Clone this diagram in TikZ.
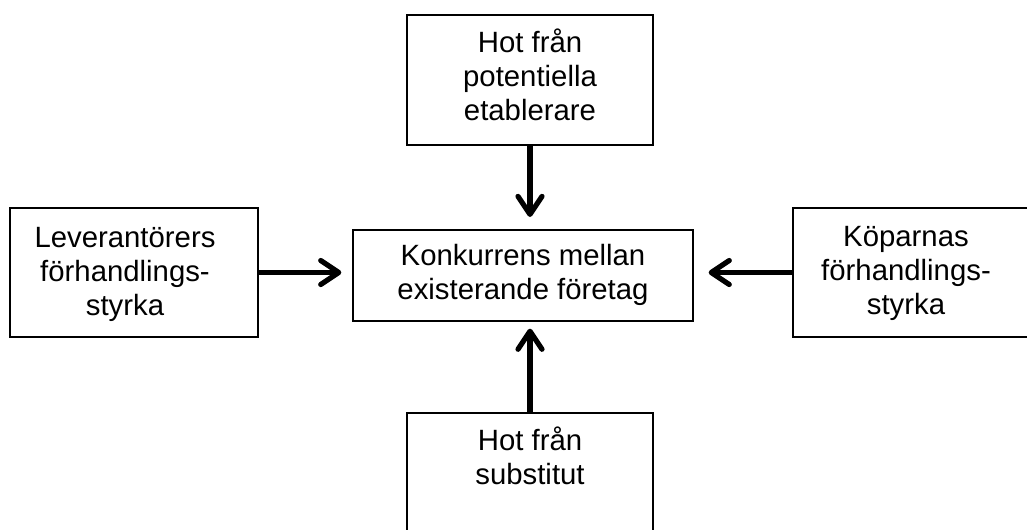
\documentclass[tikz,border=0pt]{standalone}
\usepackage{fontspec}
\setmainfont{Liberation Sans}
\usetikzlibrary{arrows.meta}

\begin{document}
\begin{tikzpicture}[x=0.75pt, y=-0.75pt,
		box/.style={draw, line width=1.5pt, inner sep=0pt},
		txt/.style={align=center, inner sep=0pt, font=\fontsize{22pt}{25.5pt}\selectfont},
		force/.style={line width=3.9pt, -{Straight Barb[length=13.5pt, width=18pt, round]}}]
		%%%%% START %%%%%
		\useasboundingbox (0, 0) rectangle (1027, 529);
		\clip (0, 0) rectangle (1027, 529);
		
		\node[box, minimum width=255pt, minimum height=68.25pt] (rivalry) at (523, 275.5) {};
		\node[txt] (rivalrytxt) at (523, 275) {Konkurrens mellan\\existerande företag};
		
		\node[box, minimum width=184.5pt, minimum height=97.5pt] (entrants) at (530, 80) {};
		\node[txt] (entrantstxt) at (530, 75) {Hot från\\potentiella\\etablerare};
		
		\node[box, minimum width=186pt, minimum height=96.75pt] (suppliers) at (134, 272.5) {};
		\node[txt] (supplierstxt) at (125, 274) {Leverantörers\\förhandlings-\\styrka};
		
		\node[box, minimum width=186pt, minimum height=96.75pt] (buyers) at (917, 272.5) {};
		\node[txt] (buyerstxt) at (906, 273) {Köparnas\\förhandlings-\\styrka};
		
		\node[box, minimum width=184.5pt, minimum height=97.5pt] (substitutes) at (530, 478) {};
		\node[txt] (substitutestxt) at (530, 456) {Hot från\\substitut};
		
		\draw[force, shorten >=9pt] (entrants.south) -- (entrants.south |- rivalry.north);
		\draw[force, shorten >=8pt] (suppliers.east) -- (suppliers.east -| rivalry.west);
		\draw[force, shorten >=11pt] (buyers.west) -- (buyers.west -| rivalry.east);
		\draw[force, shorten >=5pt] (substitutes.north) -- (substitutes.north |- rivalry.south);
		%%%%% END %%%%%
\end{tikzpicture}
\end{document}
